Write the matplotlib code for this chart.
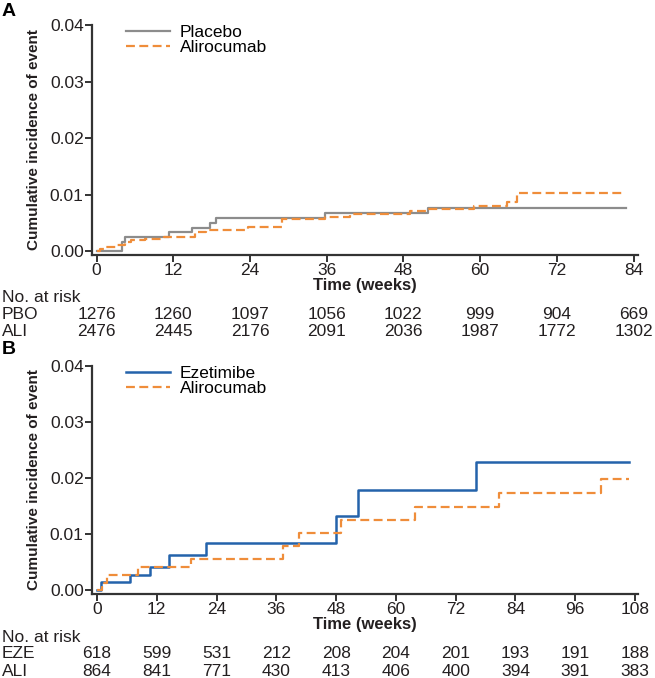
import matplotlib
matplotlib.use("Agg")
import matplotlib.pyplot as plt

plt.rcParams["font.family"] = ["Liberation Sans", "DejaVu Sans"]

# Panel A: step curves (weeks, cumulative incidence)
pbo_t = [0, 3.9, 4.4, 11.4, 15.0, 17.8, 18.7, 35.7, 51.9, 82.8]
pbo_y = [0, 0.0016, 0.0025, 0.0033, 0.0041, 0.0050, 0.0058, 0.0067, 0.0077, 0.0077]
ali_a_t = [0, 0.5, 1.5, 3.0, 4.5, 5.4, 7.5, 10.6, 15.4, 17.1, 23.7, 29.0,
           35.7, 39.7, 49.0, 51.9, 59.0, 64.2, 65.7, 82.7]
ali_a_y = [0, 0.0003, 0.0007, 0.0011, 0.0016, 0.0019, 0.0022, 0.0025, 0.0033,
           0.0038, 0.0042, 0.0056, 0.0061, 0.0066, 0.0071, 0.0074, 0.0080,
           0.0087, 0.0102, 0.0102]

# Panel B
eze_t = [0, 0.9, 6.7, 10.6, 14.4, 21.8, 47.9, 52.3, 76.0, 106.8]
eze_y = [0, 0.0014, 0.0027, 0.0041, 0.0063, 0.0084, 0.0133, 0.0179, 0.0229, 0.0229]
ali_b_t = [0, 1.0, 2.0, 8.2, 18.9, 37.3, 40.6, 49.0, 63.9, 80.7, 101.1, 106.8]
ali_b_y = [0, 0.0013, 0.0027, 0.0041, 0.0055, 0.0078, 0.0101, 0.0125, 0.0149,
           0.0173, 0.0199, 0.0199]

# Numbers at risk
ticks_a = [0, 12, 24, 36, 48, 60, 72, 84]
risk_pbo = [1276, 1260, 1097, 1056, 1022, 999, 904, 669]
risk_ali_a = [2476, 2445, 2176, 2091, 2036, 1987, 1772, 1302]
ticks_b = [0, 12, 24, 36, 48, 60, 72, 84, 96, 108]
risk_eze = [618, 599, 531, 212, 208, 204, 201, 193, 191, 188]
risk_ali_b = [864, 841, 771, 430, 413, 406, 400, 394, 391, 383]

GRAY = "#8c8c8c"
ORANGE = "#ef8d3a"
BLUE = "#2463ab"
TXT = "#231f20"
FS = 12.5
W, H = 655, 678

fig = plt.figure(figsize=(W / 100, H / 100), dpi=100)


def panel(rect, xlim, ticks, curves, rows, letter, letter_y):
    l, t, r, b = rect
    ax = fig.add_axes([l / W, 1 - b / H, (r - l) / W, (b - t) / H])
    for tt, yy, color, ls, lw, lab in curves:
        ax.step(tt, yy, where="post", color=color, ls=ls, lw=lw, label=lab,
                dashes=(4, 2) if ls == "--" else (None, None))
    ax.set_xlim(*xlim)
    ax.set_ylim(-0.0007, 0.04)
    ax.set_xticks(ticks)
    ax.set_yticks([0, 0.01, 0.02, 0.03, 0.04])
    ax.set_yticklabels(["0.00", "0.01", "0.02", "0.03", "0.04"])
    for s in ["top", "right"]:
        ax.spines[s].set_visible(False)
    for s in ["left", "bottom"]:
        ax.spines[s].set_linewidth(1.6)
        ax.spines[s].set_color("#333333")
    ax.tick_params(direction="out", length=5, width=1.4, color="#333333",
                   labelsize=FS, labelcolor=TXT, pad=1)
    ax.set_xlabel("Time (weeks)", fontsize=12, fontweight="bold", color=TXT,
                  labelpad=0)
    ax.set_ylabel("Cumulative incidence of event", fontsize=11,
                  fontweight="bold", color=TXT, labelpad=6)
    ax.legend(loc="upper left", bbox_to_anchor=(0.05, 1.03), frameon=False,
              fontsize=FS, handlelength=2.5, handletextpad=0.6,
              labelspacing=0.0, borderaxespad=0)
    # at-risk table
    fig.text(2 / W, 1 - (b + 43) / H, "No. at risk", fontsize=FS, color=TXT,
             va="center")
    for i, (name, vals) in enumerate(rows):
        yy = 1 - (b + 60 + 17 * i) / H
        fig.text(2 / W, yy, name, fontsize=FS, color=TXT, va="center")
        for tk, v in zip(ticks, vals):
            xx = ax.transData.transform((tk, 0))[0] / W
            fig.text(xx, yy, str(v), fontsize=FS, color=TXT, va="center",
                     ha="center")
    fig.text(2 / W, 1 - letter_y / H, letter, fontsize=14, fontweight="bold",
             color="black", va="center")
    return ax


panel((92, 25, 638, 255), (-0.72, 84.7), ticks_a,
      [(pbo_t, pbo_y, GRAY, "-", 1.6, "Placebo"),
       (ali_a_t, ali_a_y, ORANGE, "--", 1.6, "Alirocumab")],
      [("PBO", risk_pbo), ("ALI", risk_ali_a)], "A", 12)

panel((92, 366, 638, 594), (-1.0, 108.6), ticks_b,
      [(eze_t, eze_y, BLUE, "-", 1.8, "Ezetimibe"),
       (ali_b_t, ali_b_y, ORANGE, "--", 1.6, "Alirocumab")],
      [("EZE", risk_eze), ("ALI", risk_ali_b)], "B", 349)

fig.savefig("out.png", dpi=100)
